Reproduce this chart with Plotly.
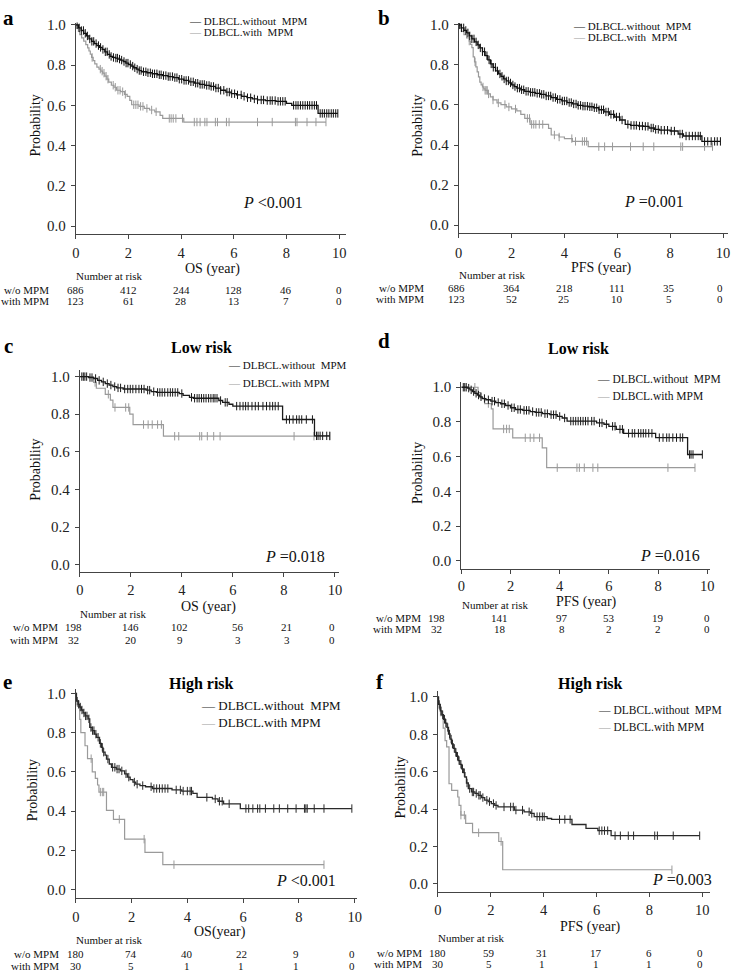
import numpy as np
import plotly.graph_objects as go

W, H = 734, 973
SERIF = "Liberation Serif"

X_TICKS = [0, 2, 4, 6, 8, 10]
Y_TICKS = [0.0, 0.2, 0.4, 0.6, 0.8, 1.0]
RISK_TIMES = [0, 2, 4, 6, 8, 10]
GROUPS = ["w/o MPM", "with MPM"]

# ---------------- panel a : OS, all patients ----------------
A_WO_T = [0, 0.1, 0.2, 0.3, 0.4, 0.5, 0.6, 0.7, 0.8, 0.9, 1.0, 1.1, 1.2, 1.3, 1.4, 1.5, 1.6, 1.7, 1.8, 1.9, 2.0,
          2.1, 2.2, 2.3, 2.4, 2.5, 2.7, 2.9, 3.1, 3.3, 3.5, 3.7, 3.9, 4.1, 4.3, 4.5, 4.7, 4.9, 5.1, 5.3, 5.5,
          5.7, 5.9, 6.1, 6.3, 6.5, 6.7, 6.9, 7.2, 7.6, 8.0, 8.2, 9.2]
A_WO_S = [1.0, 0.985, 0.972, 0.958, 0.945, 0.93, 0.918, 0.907, 0.897, 0.888, 0.878, 0.866, 0.853, 0.843, 0.838,
          0.835, 0.83, 0.825, 0.818, 0.81, 0.803, 0.795, 0.787, 0.78, 0.773, 0.767, 0.762, 0.757, 0.752, 0.748,
          0.743, 0.738, 0.73, 0.724, 0.717, 0.71, 0.704, 0.699, 0.694, 0.686, 0.675, 0.666, 0.658, 0.652, 0.645,
          0.638, 0.632, 0.627, 0.624, 0.62, 0.61, 0.6, 0.56]
A_WO_C = [0.05, 0.13, 0.21, 0.29, 0.36, 0.44, 0.53, 0.61, 0.68, 0.77, 0.86, 0.94, 1.03, 1.12, 1.19, 1.27, 1.34,
          1.43, 1.52, 1.58, 1.66, 1.74, 1.83, 1.91, 1.98, 2.07, 2.16, 2.24, 2.33, 2.41, 2.48, 2.57, 2.66, 2.74,
          2.83, 2.91, 2.99, 3.08, 3.17, 3.24, 3.33, 3.42, 3.51, 3.58, 3.67, 3.76, 3.84, 3.93, 4.02, 4.11, 4.19,
          4.28, 4.37, 4.46, 4.55, 4.63, 4.72, 4.8, 4.88, 4.97, 5.06, 5.14, 5.23, 5.32, 5.41, 5.5, 5.62, 5.74,
          5.83, 5.92, 6.03, 6.14, 6.28, 6.39, 6.52, 6.64, 6.78, 6.9, 7.04, 7.13, 7.27, 7.38, 7.46, 7.57, 7.68,
          7.77, 7.86, 7.95, 8.27, 8.36, 8.44, 8.53, 8.62, 8.71, 8.8, 8.88, 8.97, 9.06, 9.14, 9.28, 9.36, 9.44,
          9.53, 9.61, 9.7, 9.78, 9.87, 9.95]
A_WI_T = [0, 0.05, 0.1, 0.15, 0.22, 0.3, 0.38, 0.45, 0.5, 0.55, 0.6, 0.66, 0.72, 0.8, 0.88, 0.95, 1.02, 1.1,
          1.18, 1.25, 1.35, 1.45, 1.55, 1.7, 1.85, 1.95, 2.05, 2.12, 2.4, 2.6, 2.8, 3.0, 3.2, 3.3, 4.1]
A_WI_S = [1.0, 0.984, 0.967, 0.951, 0.935, 0.919, 0.902, 0.886, 0.87, 0.854, 0.838, 0.822, 0.806, 0.79, 0.78,
          0.77, 0.76, 0.745, 0.73, 0.715, 0.7, 0.69, 0.675, 0.668, 0.655, 0.645, 0.625, 0.603, 0.595, 0.585,
          0.577, 0.568, 0.55, 0.535, 0.517]
A_WI_C = [0.62, 0.93, 1.0, 1.07, 1.15, 1.22, 1.42, 1.5, 1.6, 1.68, 1.78, 1.88, 2.2, 2.28, 2.36, 2.46, 2.55, 2.7,
          2.88, 3.05, 3.55, 3.62, 3.7, 3.8, 4.05, 4.5, 4.6, 4.72, 4.9, 4.98, 5.3, 5.38, 5.72, 5.82, 6.9, 7.46,
          8.34, 8.4, 8.78, 9.12, 9.5]
A_RISK_WO = [686, 412, 244, 128, 46, 0]
A_RISK_WI = [123, 61, 28, 13, 7, 0]

# ---------------- panel b : PFS, all patients ----------------
B_WO_T = [0, 0.1, 0.2, 0.3, 0.4, 0.5, 0.6, 0.7, 0.8, 0.9, 1.0, 1.1, 1.2, 1.3, 1.4, 1.5, 1.6, 1.7, 1.8, 1.9, 2.0,
          2.1, 2.2, 2.35, 2.5, 2.7, 2.9, 3.1, 3.3, 3.5, 3.7, 3.9, 4.1, 4.3, 4.5, 4.7, 4.9, 5.1, 5.3, 5.5, 5.7,
          5.9, 6.1, 6.3, 6.5, 6.8, 7.0, 7.2, 7.4, 7.6, 8.0, 8.3, 8.5, 9.2]
B_WO_S = [1.0, 0.985, 0.972, 0.96, 0.945, 0.93, 0.915, 0.9, 0.885, 0.866, 0.846, 0.825, 0.805, 0.788, 0.77,
          0.755, 0.743, 0.73, 0.72, 0.71, 0.7, 0.692, 0.684, 0.676, 0.668, 0.663, 0.658, 0.653, 0.645, 0.637,
          0.628, 0.62, 0.612, 0.605, 0.598, 0.594, 0.591, 0.586, 0.576, 0.565, 0.553, 0.54, 0.525, 0.503, 0.498,
          0.495, 0.493, 0.485, 0.478, 0.474, 0.47, 0.455, 0.445, 0.418]
B_WO_C = [0.04, 0.11, 0.19, 0.27, 0.35, 0.42, 0.5, 0.58, 0.66, 0.74, 0.82, 0.9, 0.98, 1.07, 1.15, 1.23, 1.31,
          1.39, 1.47, 1.56, 1.64, 1.72, 1.8, 1.88, 1.96, 2.05, 2.13, 2.22, 2.3, 2.38, 2.46, 2.55, 2.63, 2.72,
          2.8, 2.88, 2.97, 3.06, 3.14, 3.22, 3.31, 3.4, 3.48, 3.57, 3.66, 3.74, 3.83, 3.92, 4.0, 4.09, 4.18,
          4.26, 4.35, 4.44, 4.52, 4.61, 4.7, 4.78, 4.87, 4.96, 5.04, 5.13, 5.22, 5.31, 5.4, 5.48, 5.57, 5.66,
          5.76, 5.86, 5.97, 6.08, 6.18, 6.4, 6.52, 6.63, 6.72, 6.84, 6.95, 7.06, 7.16, 7.28, 7.36, 7.45, 7.55,
          7.66, 7.78, 7.9, 8.04, 8.16, 8.37, 8.46, 8.6, 8.72, 8.84, 8.95, 9.06, 9.14, 9.3, 9.42, 9.55, 9.68,
          9.78, 9.9]
B_WI_T = [0, 0.05, 0.1, 0.2, 0.3, 0.4, 0.45, 0.5, 0.55, 0.6, 0.65, 0.7, 0.75, 0.8, 0.85, 0.9, 0.95, 1.0, 1.1,
          1.2, 1.3, 1.45, 1.6, 1.8, 2.0, 2.2, 2.35, 2.5, 2.7, 3.4, 3.5, 3.8, 4.0, 4.3, 4.9]
B_WI_S = [1.0, 0.984, 0.967, 0.951, 0.935, 0.919, 0.902, 0.886, 0.84, 0.815, 0.79, 0.765, 0.74, 0.714, 0.7,
          0.69, 0.68, 0.673, 0.655, 0.64, 0.625, 0.61, 0.602, 0.59, 0.58, 0.57, 0.553, 0.533, 0.503, 0.483, 0.45,
          0.44, 0.432, 0.418, 0.392]
B_WI_C = [0.4, 0.62, 0.92, 1.0, 1.04, 1.08, 1.13, 1.3, 1.5, 1.75, 1.9, 2.15, 2.6, 2.68, 2.76, 2.84, 2.92, 3.05,
          3.18, 3.62, 3.8, 4.28, 4.42, 4.68, 4.76, 4.84, 5.3, 5.52, 5.82, 6.5, 6.98, 7.38, 8.4, 8.47, 9.3, 9.6]
B_RISK_WO = [686, 364, 218, 111, 35, 0]
B_RISK_WI = [123, 52, 25, 10, 5, 0]

# ---------------- panel c : OS, low risk ----------------
C_WO_T = [0, 0.35, 0.55, 0.7, 0.85, 1.0, 1.15, 1.3, 1.45, 1.7, 2.6, 2.8, 3.0, 3.9, 4.05, 4.3, 4.45, 5.45, 5.6,
          5.85, 6.0, 7.95, 9.2]
C_WO_S = [1.0, 0.995, 0.99, 0.98, 0.972, 0.963, 0.955, 0.947, 0.94, 0.934, 0.928, 0.92, 0.916, 0.91, 0.9, 0.89,
          0.885, 0.873, 0.863, 0.853, 0.843, 0.772, 0.685]
C_WO_C = [0.08, 0.14, 0.2, 0.27, 0.4, 0.48, 0.62, 0.76, 0.92, 1.08, 1.22, 1.37, 1.5, 1.6, 1.76, 1.88, 1.98, 2.08,
          2.2, 2.32, 2.42, 2.52, 2.66, 2.74, 2.9, 3.05, 3.14, 3.23, 3.33, 3.45, 3.55, 3.64, 3.74, 3.84, 4.0, 4.38,
          4.5, 4.6, 4.68, 4.77, 4.86, 4.95, 5.05, 5.14, 5.23, 5.3, 5.38, 5.52, 5.7, 5.78, 6.15, 6.28, 6.4, 6.5,
          6.6, 6.75, 6.88, 7.0, 7.18, 7.32, 7.45, 7.56, 7.66, 7.78, 8.1, 8.22, 8.36, 8.5, 8.6, 8.7, 8.88, 9.12,
          9.28, 9.34, 9.42, 9.52, 9.68, 9.8]
C_WI_T = [0, 0.54, 0.65, 1.0, 1.2, 1.3, 1.96, 2.09, 3.28]
C_WI_S = [1.0, 0.969, 0.938, 0.906, 0.875, 0.836, 0.80, 0.745, 0.683]
C_WI_C = [0.6, 1.12, 1.38, 1.8, 1.92, 2.5, 2.68, 2.84, 3.05, 3.2, 3.72, 3.88, 4.7, 4.78, 5.0, 5.25, 5.5, 8.4,
          9.18, 9.8]
C_RISK_WO = [198, 146, 102, 56, 21, 0]
C_RISK_WI = [32, 20, 9, 3, 3, 0]

# ---------------- panel d : PFS, low risk ----------------
D_WO_T = [0, 0.25, 0.35, 0.45, 0.55, 0.65, 0.75, 0.85, 1.0, 1.2, 1.4, 1.6, 1.8, 2.0, 2.2, 2.5, 2.8, 3.0, 3.3,
          3.6, 3.9, 4.1, 4.3, 5.5, 5.8, 6.0, 6.3, 6.6, 7.9, 9.2]
D_WO_S = [1.0, 0.995, 0.985, 0.975, 0.965, 0.955, 0.945, 0.935, 0.928, 0.92, 0.912, 0.905, 0.895, 0.882, 0.872,
          0.867, 0.86, 0.855, 0.848, 0.842, 0.832, 0.823, 0.805, 0.795, 0.787, 0.775, 0.758, 0.735, 0.71, 0.613]
D_WO_C = [0.08, 0.14, 0.2, 0.3, 0.4, 0.5, 0.6, 0.7, 0.8, 0.94, 1.1, 1.25, 1.35, 1.5, 1.65, 1.75, 1.9, 2.05, 2.15,
          2.3, 2.4, 2.55, 2.65, 2.75, 2.9, 3.05, 3.15, 3.25, 3.4, 3.5, 3.65, 3.75, 3.85, 4.0, 4.2, 4.45, 4.55,
          4.65, 4.75, 4.85, 4.95, 5.05, 5.15, 5.3, 5.4, 5.62, 5.72, 5.9, 6.15, 6.25, 6.45, 6.55, 6.8, 6.95, 7.05,
          7.2, 7.3, 7.4, 7.5, 7.62, 7.75, 8.05, 8.2, 8.35, 8.45, 8.6, 8.75, 8.9, 9.0, 9.28, 9.34, 9.42, 9.8]
D_WI_T = [0, 0.68, 0.78, 0.95, 1.22, 1.29, 2.09, 3.29, 3.47]
D_WI_S = [1.0, 0.969, 0.938, 0.906, 0.875, 0.76, 0.709, 0.651, 0.537]
D_WI_C = [0.55, 1.1, 1.72, 1.84, 1.95, 2.6, 2.8, 2.95, 3.18, 3.9, 4.7, 4.8, 5.0, 5.35, 5.55, 8.4, 9.5]
D_RISK_WO = [198, 141, 97, 53, 19, 0]
D_RISK_WI = [32, 18, 8, 2, 2, 0]

# ---------------- panel e : OS, high risk ----------------
E_WO_T = [0, 0.02, 0.1, 0.14, 0.2, 0.26, 0.33, 0.44, 0.5, 0.58, 0.67, 0.75, 0.85, 0.92, 0.97, 1.05, 1.1, 1.2,
          1.28, 1.45, 1.6, 1.75, 1.85, 1.95, 2.05, 2.15, 2.3, 2.5, 2.75, 3.45, 3.8, 4.2, 4.35, 4.9, 5.1, 5.3, 5.9]
E_WO_S = [1.0, 0.96, 0.944, 0.93, 0.915, 0.9, 0.885, 0.87, 0.826, 0.81, 0.792, 0.776, 0.745, 0.725, 0.7, 0.685,
          0.665, 0.64, 0.623, 0.614, 0.605, 0.59, 0.573, 0.56, 0.548, 0.537, 0.53, 0.524, 0.515, 0.508, 0.502,
          0.49, 0.47, 0.462, 0.45, 0.437, 0.413]
E_WO_C = [0.05, 0.1, 0.16, 0.22, 0.29, 0.35, 0.4, 0.47, 0.54, 0.6, 0.65, 0.72, 0.8, 0.88, 0.95, 1.0, 1.15, 1.32,
          1.4, 1.48, 1.55, 1.65, 1.8, 1.9, 2.1, 2.2, 2.4, 2.7, 2.8, 2.9, 3.0, 3.1, 3.2, 3.3, 3.6, 3.75, 3.85, 4.0,
          4.1, 4.15, 4.7, 5.0, 5.15, 5.25, 5.5, 6.1, 6.2, 6.35, 6.52, 6.6, 6.8, 7.1, 7.3, 7.6, 7.9, 8.2, 8.25,
          8.3, 8.55, 8.9, 9.9]
E_WI_T = [0, 0.03, 0.06, 0.14, 0.18, 0.33, 0.42, 0.59, 0.7, 0.78, 0.83, 1.1, 1.35, 1.75, 2.48, 3.12]
E_WI_S = [1.0, 0.967, 0.933, 0.867, 0.8, 0.733, 0.667, 0.6, 0.567, 0.533, 0.497, 0.404, 0.358, 0.257, 0.19, 0.127]
E_WI_C = [0.55, 0.88, 0.95, 1.0, 1.56, 2.45, 3.52, 8.9]
E_RISK_WO = [180, 74, 40, 22, 9, 0]
E_RISK_WI = [30, 5, 1, 1, 1, 0]

# ---------------- panel f : PFS, high risk ----------------
F_WO_T = [0, 0.02, 0.09, 0.15, 0.21, 0.28, 0.34, 0.4, 0.46, 0.52, 0.58, 0.65, 0.7, 0.77, 0.83, 0.9, 0.96, 1.02,
          1.08, 1.15, 1.27, 1.4, 1.52, 1.65, 1.77, 1.9, 2.02, 2.15, 2.27, 2.89, 3.26, 3.51, 3.64, 4.13, 4.3, 5.07,
          5.6, 6.05, 6.55]
F_WO_S = [1.0, 0.96, 0.926, 0.905, 0.881, 0.86, 0.837, 0.802, 0.775, 0.749, 0.725, 0.704, 0.683, 0.66, 0.64,
          0.616, 0.595, 0.572, 0.54, 0.51, 0.492, 0.484, 0.474, 0.462, 0.448, 0.44, 0.43, 0.42, 0.412, 0.395,
          0.386, 0.377, 0.36, 0.35, 0.345, 0.318, 0.297, 0.285, 0.258]
F_WO_C = [0.05, 0.12, 0.18, 0.25, 0.3, 0.37, 0.44, 0.5, 0.55, 0.62, 0.68, 0.74, 0.8, 0.87, 0.93, 1.0, 1.1, 1.2,
          1.3, 1.35, 1.45, 1.55, 1.6, 1.7, 1.85, 1.95, 2.1, 2.2, 2.5, 2.75, 2.85, 2.95, 3.2, 3.45, 3.55, 3.75,
          3.85, 3.95, 4.02, 4.6, 4.8, 5.0, 6.1, 6.2, 6.3, 6.42, 6.7, 6.9, 7.2, 7.4, 8.2, 8.3, 8.9, 9.9]
F_WI_T = [0, 0.03, 0.06, 0.1, 0.2, 0.27, 0.33, 0.42, 0.52, 0.75, 0.8, 0.87, 1.05, 1.31, 2.3, 2.45]
F_WI_S = [1.0, 0.967, 0.933, 0.9, 0.833, 0.767, 0.733, 0.536, 0.5, 0.465, 0.42, 0.368, 0.324, 0.274, 0.227,
          0.076]
F_WI_C = [0.87, 1.0, 1.54, 2.39, 8.85]
F_RISK_WO = [180, 59, 31, 17, 6, 0]
F_RISK_WI = [30, 5, 1, 1, 1, 0]

LEGEND_WO = ["DLBCL.without\u00a0 MPM"] * 6
LEGEND_WI = ["DLBCL.with\u00a0 MPM", "DLBCL.with\u00a0 MPM", "DLBCL.with MPM", "DLBCL.with MPM",
             "DLBCL.with MPM", "DLBCL.with MPM"]
PANEL_LETTERS = ["a", "b", "c", "d", "e", "f"]
PANEL_TITLES = ["", "", "Low risk", "Low risk", "High risk", "High risk"]
X_TITLES = ["OS (year)", "PFS (year)", "OS (year)", "PFS (year)", "OS(year)", "PFS (year)"]
P_TEXTS = ["<i>P</i> &lt;0.001", "<i>P</i> =0.001", "<i>P</i> =0.018", "<i>P</i> =0.016",
           "<i>P</i> &lt;0.001", "<i>P</i> =0.003"]

DATA = [
    (A_WO_T, A_WO_S, A_WO_C, A_WI_T, A_WI_S, A_WI_C, A_RISK_WO, A_RISK_WI),
    (B_WO_T, B_WO_S, B_WO_C, B_WI_T, B_WI_S, B_WI_C, B_RISK_WO, B_RISK_WI),
    (C_WO_T, C_WO_S, C_WO_C, C_WI_T, C_WI_S, C_WI_C, C_RISK_WO, C_RISK_WI),
    (D_WO_T, D_WO_S, D_WO_C, D_WI_T, D_WI_S, D_WI_C, D_RISK_WO, D_RISK_WI),
    (E_WO_T, E_WO_S, E_WO_C, E_WI_T, E_WI_S, E_WI_C, E_RISK_WO, E_RISK_WI),
    (F_WO_T, F_WO_S, F_WO_C, F_WI_T, F_WI_S, F_WI_C, F_RISK_WO, F_RISK_WI),
]

# ---------------- layout geometry (pixels) ----------------
GEOM = [
    dict(x0=72.7, x10=339.3, xend=346.7, y1=19.0, y0=221.7, top=16.7, bottom=229.7),
    dict(x0=460.3, x10=728.0, xend=733.0, y1=19.0, y0=220.7, top=17.0, bottom=229.0),
    dict(x0=76.7, x10=335.0, xend=339.0, y1=373.3, y0=562.7, top=366.7, bottom=570.0),
    dict(x0=463.0, x10=712.0, xend=715.0, y1=384.0, y0=559.0, top=378.3, bottom=566.7),
    dict(x0=72.7, x10=355.0, xend=357.0, y1=692.3, y0=890.0, top=688.3, bottom=898.3),
    dict(x0=439.3, x10=707.0, xend=714.7, y1=696.0, y0=884.3, top=690.0, bottom=892.3),
]
X_STANDOFF = [2, 2, 1, 0, 2, 1]
LETTER_POS = [(5, 12), (385, 12), (4.5, 342), (384.5, 337.5), (3.5, 680.5), (381, 681)]
TITLE_POS = [None, None, (200, 344), (582, 345), (200, 682.7), (593.7, 683)]
P_POS = [(272, 198), (658, 197), (295, 554), (674.4, 553), (305.5, 880.7), (686, 880)]
YT_POS = [(31.7, 120), (418.7, 121), (31.7, 466.7), (418.5, 470), (28.3, 790), (401, 787)]
XT_POS = [(210.7, 265), (605.3, 263.5), (207.3, 605), (589.7, 600.5), (218.3, 933), (593.7, 927.5)]
NAR_POS = [(106, 272), (493.7, 270.7), (110.7, 612.7), (497, 603.3), (106.7, 940.7), (473, 938.3)]
ROW_POS = [(48, 286, 297.5), (427, 284, 295.5), (57, 625.7, 638.3), (424, 616, 627.5),
           (58, 955, 966.7), (425, 954.3, 965)]
RISK_SHIFT = [[0, 0, 0, 0, 0, 0], [-2, 0, 0, 0, -1, -3], [-6, 0, -2, 5, 3, -3],
              [-25, -11, 2, 0, 0, 0], [0, -1, 0, -2, -3, -3], [0, -2, -2, -1, 0, -2]]
LEGEND_POS = [(199, 15.5, 26.2, 11.0), (588, 19.8, 30.9, 11.0), (239, 361.7, 380.0, 11.0),
              (612.7, 376.0, 392.7, 11.5), (213.3, 704.3, 721.7, 13.0), (613.7, 709.3, 726.7, 11.5)]

BLACK = ["#111111", "#111111", "#1a1a1a", "#1a1a1a", "#2a2a2a", "#2a2a2a"]
GRAY = "#9a9a9a"
AXC = "#444444"
TXT = "#111111"


def step_xy(t, s, c):
    end = max(max(c), t[-1])
    return list(t) + [end], list(s) + [s[-1]]


def cens_y(t, s, c):
    idx = np.searchsorted(np.asarray(t), np.asarray(c), side="right") - 1
    return [s[i] for i in idx]


fig = go.Figure()
annotations = []


def pann(text, xpx, ypx, size, xanchor="center", bold=False, color=TXT, angle=0):
    if bold:
        text = "<b>" + text + "</b>"
    annotations.append(dict(text=text, x=xpx / W, y=1 - ypx / H, xref="paper", yref="paper",
                            xanchor=xanchor, yanchor="middle", showarrow=False, textangle=angle,
                            font=dict(family=SERIF, size=size, color=color)))


for i, (wo_t, wo_s, wo_c, wi_t, wi_s, wi_c, r_wo, r_wi) in enumerate(DATA):
    k = "" if i == 0 else str(i + 1)
    xr, yr = "x" + k, "y" + k
    g = GEOM[i]
    pxyr = (g["x10"] - g["x0"]) / 10.0
    pxu = g["y0"] - g["y1"]
    xrange = [0, (g["xend"] - g["x0"]) / pxyr]
    yrange = [-(g["bottom"] - g["y0"]) / pxu, (g["y0"] - g["top"]) / pxu]

    for (t, s, c, col, lw) in [(wi_t, wi_s, wi_c, GRAY, 1.2), (wo_t, wo_s, wo_c, BLACK[i], 1.3)]:
        x, y = step_xy(t, s, c)
        fig.add_trace(go.Scatter(x=x, y=y, xaxis=xr, yaxis=yr, mode="lines", line_shape="hv",
                                 line=dict(color=col, width=lw), showlegend=False, hoverinfo="skip"))
        fig.add_trace(go.Scatter(x=c, y=cens_y(t, s, c), xaxis=xr, yaxis=yr, mode="markers",
                                 marker=dict(symbol="line-ns", size=6, color=col,
                                             line=dict(color=col, width=1)),
                                 showlegend=False, hoverinfo="skip"))

    axcommon = dict(showline=True, linecolor=AXC, linewidth=1, ticks="outside", ticklen=4, tickwidth=1,
                    tickcolor=AXC, showgrid=False, zeroline=False, fixedrange=True)
    fig.update_layout(**{
        "xaxis" + k: dict(domain=[g["x0"] / W, g["xend"] / W], range=xrange, anchor=yr,
                          tickvals=X_TICKS, ticklabelstandoff=X_STANDOFF[i],
                          tickfont=dict(family=SERIF, size=14.5, color="#222222"), **axcommon),
        "yaxis" + k: dict(domain=[1 - g["bottom"] / H, 1 - g["top"] / H], range=yrange, anchor=xr,
                          tickvals=Y_TICKS, tickformat=".1f", ticklabelstandoff=2,
                          tickfont=dict(family=SERIF, size=15, color="#222222"), **axcommon),
    })

    # texts
    pann(PANEL_LETTERS[i], *LETTER_POS[i], 21, bold=True, color="#000000")
    if PANEL_TITLES[i]:
        pann(PANEL_TITLES[i], *TITLE_POS[i], 16, bold=True, color="#000000")
    pann(P_TEXTS[i], *P_POS[i], 16)
    pann("Probability", *YT_POS[i], 14, angle=-90)
    pann(X_TITLES[i], *XT_POS[i], 14)
    pann("Number at risk", *NAR_POS[i], 11)
    rx, ry1, ry2 = ROW_POS[i]
    pann(GROUPS[0], rx, ry1, 11, xanchor="right")
    pann(GROUPS[1], rx, ry2, 11, xanchor="right")
    for j, tt in enumerate(RISK_TIMES):
        for val, ry in [(r_wo[j], ry1), (r_wi[j], ry2)]:
            annotations.append(dict(text=str(val), x=tt, y=1 - ry / H, xref=xr, yref="paper",
                                    xshift=RISK_SHIFT[i][j], xanchor="center", yanchor="middle",
                                    showarrow=False, font=dict(family=SERIF, size=11, color=TXT)))
    # legend
    lx, ly1, ly2, lfs = LEGEND_POS[i]
    left = lx - 1.25 * lfs
    for lab, col, ly in [(LEGEND_WO[i], BLACK[i], ly1), (LEGEND_WI[i], GRAY, ly2)]:
        pann("<span style='color:%s'>\u2014</span> %s" % (col, lab), left, ly, lfs, xanchor="left")

fig.update_layout(width=W, height=H, margin=dict(l=0, r=0, t=0, b=0), paper_bgcolor="white",
                  plot_bgcolor="white", showlegend=False, annotations=annotations,
                  font=dict(family=SERIF, color=TXT))

fig.write_html("out.html", config={"displayModeBar": False},
               post_script="document.body.style.margin='0';document.body.style.padding='0';"
                           "document.documentElement.style.overflow='hidden';")
